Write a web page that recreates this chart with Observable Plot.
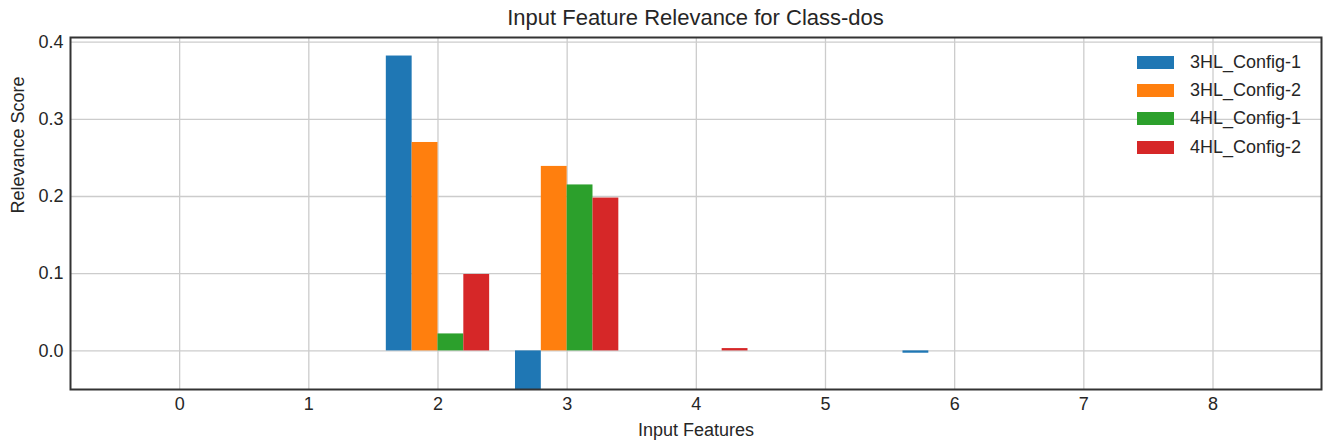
<!DOCTYPE html>
<html>
<head>
<meta charset="utf-8">
<script src="https://cdn.jsdelivr.net/npm/d3@7"></script>
<script src="https://cdn.jsdelivr.net/npm/@observablehq/plot@0.6"></script>
<style>
  html, body { margin: 0; padding: 0; background: #fff; }
  body { font-family: "Liberation Sans", Arial, sans-serif; color: #262626; }
  #wrap { position: relative; width: 1323px; height: 441px; overflow: hidden; }
  #title { position: absolute; left: 70px; top: 0; height: 35px; line-height: 35px; width: 1251px; text-align: center; font-size: 22px; color: #262626; }
  #chart { position: absolute; left: 0; top: 30px; }
  #legend { position: absolute; left: 1137px; top: 48px; font-size: 18px; color: #262626; }
  .row { height: 28.3px; display: flex; align-items: center; }
  .sw { width: 37px; height: 13px; margin-right: 16px; }
</style>
</head>
<body>
<div id="wrap">
  <div id="chart"></div>
  <div id="title"></div>
  <div id="legend"></div>
</div>
<script>
const titleText = "Input Feature Relevance for Class-dos";
const xLabel = "Input Features";
const yLabel = "Relevance Score";
const features = [0, 1, 2, 3, 4, 5, 6, 7, 8];
const seriesNames = ["3HL_Config-1", "3HL_Config-2", "4HL_Config-1", "4HL_Config-2"];
const seriesColors = ["#1f77b4", "#ff7f0e", "#2ca02c", "#d62728"];
const hl3_config1 = [0, 0, 0.382, -0.10, 0, 0, -0.003, 0, 0];
const hl3_config2 = [0, 0, 0.270, 0.239, 0, 0, 0, 0, 0];
const hl4_config1 = [0, 0, 0.022, 0.215, 0, 0, 0, 0, 0];
const hl4_config2 = [0, 0, 0.099, 0.198, 0.003, 0, 0, 0, 0];
const xTicks = [0, 1, 2, 3, 4, 5, 6, 7, 8];
const yTicks = [0, 0.1, 0.2, 0.3, 0.4];

const allSeries = [hl3_config1, hl3_config2, hl4_config1, hl4_config2];
const barWidth = 0.8 / seriesNames.length;
const table = [];
allSeries.forEach((vals, i) => {
  vals.forEach((v, j) => {
    const center = features[j] + (i - (seriesNames.length - 1) / 2) * barWidth;
    table.push({series: seriesNames[i], feature: features[j], value: v, x1: center - barWidth / 2, x2: center + barWidth / 2});
  });
});

document.getElementById("title").textContent = titleText;

const chart = Plot.plot({
  width: 1323,
  height: 411,
  marginLeft: 70,
  marginRight: 2,
  marginTop: 7,
  marginBottom: 52,
  style: {fontFamily: '"Liberation Sans", Arial, sans-serif', fontSize: "18px", color: "#262626", background: "#fff", overflow: "visible"},
  x: {domain: [-0.845, 8.84], ticks: xTicks, tickSize: 0, tickPadding: 8, tickFormat: d3.format("d"), label: null},
  y: {domain: [-0.05, 0.406], ticks: yTicks, tickSize: 0, tickPadding: 7, tickFormat: d3.format(".1f"), label: null},
  color: {domain: seriesNames, range: seriesColors},
  marks: [
    Plot.gridX(xTicks, {stroke: "#cccccc", strokeOpacity: 1, strokeWidth: 1.3}),
    Plot.gridY(yTicks, {stroke: "#cccccc", strokeOpacity: 1, strokeWidth: 1.3}),
    Plot.rectY(table.filter(d => d.value !== 0), {x1: "x1", x2: "x2", y1: 0, y2: "value", fill: "series", clip: true}),
    Plot.text([yLabel], {frameAnchor: "left", rotate: -90, dx: -52, text: d => d, fontSize: 18, fill: "#262626"}),
    Plot.text([xLabel], {frameAnchor: "bottom", lineAnchor: "middle", dy: 41, text: d => d, fontSize: 18, fill: "#262626"}),
    Plot.frame({stroke: "#333333", strokeWidth: 2})
  ]
});
document.getElementById("chart").appendChild(chart);

const legend = document.getElementById("legend");
seriesNames.forEach((name, i) => {
  const row = document.createElement("div");
  row.className = "row";
  const sw = document.createElement("div");
  sw.className = "sw";
  sw.style.background = seriesColors[i];
  const label = document.createElement("span");
  label.textContent = name;
  row.appendChild(sw);
  row.appendChild(label);
  legend.appendChild(row);
});
</script>
</body>
</html>
